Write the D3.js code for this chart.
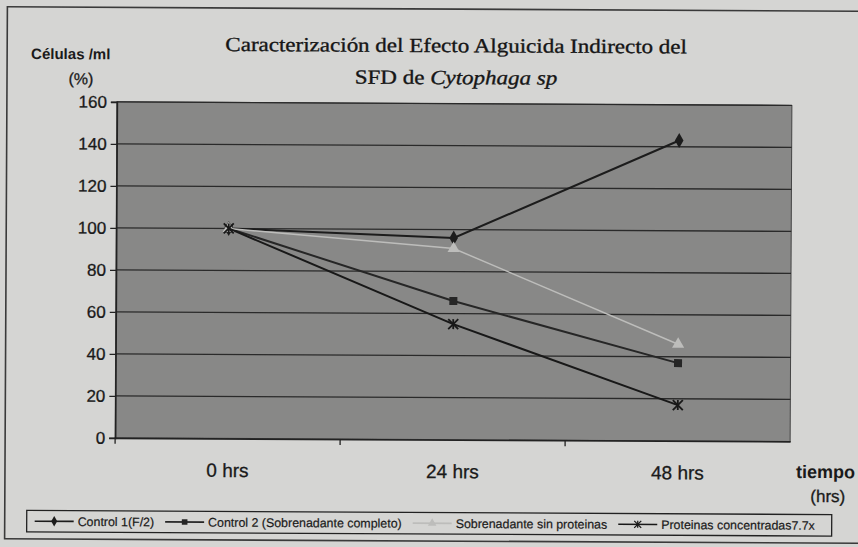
<!DOCTYPE html>
<html>
<head>
<meta charset="utf-8">
<script src="https://cdn.jsdelivr.net/npm/d3@7"></script>
<style>
  html, body { margin: 0; padding: 0; background: #d5d5d3; overflow: hidden; }
  svg { display: block; }
</style>
</head>
<body>
<div id="chart"></div>
<script>
(function () {
  "use strict";

  /***** Données *****/
  var categories = ["0 hrs", "24 hrs", "48 hrs"];
  var control1 = [100, 96, 143];
  var control2 = [100, 66, 37];
  var sinProteinas = [100, 91, 46];
  var proteinasConc = [100, 55, 17];
  var yTicks = [0, 20, 40, 60, 80, 100, 120, 140, 160];
  var seriesNames = [
    "Control 1(F/2)",
    "Control 2 (Sobrenadante completo)",
    "Sobrenadante sin proteinas",
    "Proteinas concentradas7.7x"
  ];

  var series = [
    {name: seriesNames[0], values: control1, color: "#1c1c1c", symbol: "diamond", width: 2},
    {name: seriesNames[1], values: control2, color: "#262626", symbol: "square", width: 2},
    {name: seriesNames[2], values: sinProteinas, color: "#bdbdbb", symbol: "triangle", width: 1.5},
    {name: seriesNames[3], values: proteinasConc, color: "#181818", symbol: "star", width: 2}
  ];

  /***** Configuration *****/
  var width = 858, height = 547;
  var plot = {left: 116, right: 791, top: 103.5, bottom: 439.5};
  var sans = "'Liberation Sans', Arial, sans-serif";
  var serif = "'Liberation Serif', 'Times New Roman', serif";

  var svg = d3.select("#chart").append("svg")
    .attr("width", width)
    .attr("height", height);

  // la page numérisée est légèrement inclinée
  var root = svg.append("g")
    .attr("transform", "rotate(0.3," + width / 2 + "," + height / 2 + ")");

  // cadre extérieur
  root.append("rect")
    .attr("x", 6).attr("y", 9)
    .attr("width", 900).attr("height", 532)
    .attr("fill", "none")
    .attr("stroke", "#3a3a3a")
    .attr("stroke-width", 1.6);

  var x = d3.scaleBand().domain(categories).range([plot.left, plot.right]);
  var y = d3.scaleLinear().domain([0, 160]).range([plot.bottom, plot.top]);

  // zone du graphique
  root.append("rect")
    .attr("x", plot.left).attr("y", plot.top)
    .attr("width", plot.right - plot.left).attr("height", plot.bottom - plot.top)
    .attr("fill", "#888887")
    .attr("stroke", "#444")
    .attr("stroke-width", 1);

  // lignes de grille
  root.append("g").selectAll("line")
    .data(yTicks.filter(function (d) { return d > 0; }))
    .enter().append("line")
    .attr("x1", plot.left).attr("x2", plot.right)
    .attr("y1", function (d) { return y(d); })
    .attr("y2", function (d) { return y(d); })
    .attr("stroke", "#2a2a2a")
    .attr("stroke-width", 1.3);

  // axe Y
  var yAxis = root.append("g")
    .attr("transform", "translate(" + plot.left + ",0)")
    .call(d3.axisLeft(y).tickValues(yTicks).tickSize(6).tickPadding(4));
  yAxis.select(".domain").attr("stroke", "#222").attr("stroke-width", 1.6);
  yAxis.selectAll(".tick line").attr("stroke", "#222").attr("stroke-width", 1.3);
  yAxis.selectAll("text")
    .attr("font-family", sans)
    .attr("font-size", 17)
    .attr("fill", "#1a1a1a")
    .attr("stroke", "#1a1a1a").attr("stroke-width", 0.3);

  // axe X
  var xAxis = root.append("g")
    .attr("transform", "translate(0," + plot.bottom + ")")
    .call(d3.axisBottom(x).tickSize(0).tickPadding(25));
  xAxis.select(".domain").attr("stroke", "#222").attr("stroke-width", 1.6);
  xAxis.selectAll("text")
    .attr("font-family", sans)
    .attr("font-size", 19)
    .attr("fill", "#1a1a1a")
    .attr("stroke", "#1a1a1a").attr("stroke-width", 0.3);
  // graduations entre catégories
  root.append("g").selectAll("line")
    .data(categories)
    .enter().append("line")
    .attr("x1", function (d) { return x(d); })
    .attr("x2", function (d) { return x(d); })
    .attr("y1", plot.bottom).attr("y2", plot.bottom + 6)
    .attr("stroke", "#222").attr("stroke-width", 1.3);

  // séries
  var cx = function (i) { return x(categories[i]) + x.bandwidth() / 2; };
  var line = d3.line()
    .x(function (d, i) { return cx(i); })
    .y(function (d) { return y(d); });

  var symbolType = {
    diamond: d3.symbolDiamond,
    square: d3.symbolSquare,
    triangle: d3.symbolTriangle
  };

  function drawMarker(g, s, px, py, scale) {
    if (s.symbol === "star") {
      var r = 5 * scale;
      var m = g.append("g").attr("transform", "translate(" + px + "," + py + ")");
      [[-r, -r, r, r], [-r, r, r, -r], [0, -r, 0, r]].forEach(function (p) {
        m.append("line")
          .attr("x1", p[0]).attr("y1", p[1]).attr("x2", p[2]).attr("y2", p[3])
          .attr("stroke", s.color).attr("stroke-width", 1.8 * scale);
      });
    } else {
      g.append("path")
        .attr("transform", "translate(" + px + "," + py + ")")
        .attr("d", d3.symbol().type(symbolType[s.symbol]).size(64 * scale * scale)())
        .attr("fill", s.color);
    }
  }

  var gSeries = root.append("g");
  series.forEach(function (s) {
    gSeries.append("path")
      .datum(s.values)
      .attr("d", line)
      .attr("fill", "none")
      .attr("stroke", s.color)
      .attr("stroke-width", s.width);
    s.values.forEach(function (v, i) {
      drawMarker(gSeries, s, cx(i), y(v), 1);
    });
  });

  // titre (police plus large que Times : étirement horizontal)
  function titleLine(yPos) {
    return root.append("g")
      .attr("transform", "translate(455," + yPos + ") scale(1.15,1)")
      .append("text")
      .attr("text-anchor", "middle")
      .attr("font-family", serif)
      .attr("font-size", 20)
      .attr("fill", "#161616")
      .attr("stroke", "#161616").attr("stroke-width", 0.35);
  }
  titleLine(52).text("Caracterización  del Efecto Alguicida Indirecto del");
  var t2 = titleLine(84);
  t2.append("tspan").text("SFD de ");
  t2.append("tspan").attr("font-style", "italic").text("Cytophaga sp");

  // titres des axes
  root.append("text")
    .attr("x", 30).attr("y", 61)
    .attr("font-family", sans).attr("font-weight", "bold")
    .attr("font-size", 15).attr("fill", "#1a1a1a")
    .text("Células /ml");
  root.append("text")
    .attr("x", 80).attr("y", 86)
    .attr("text-anchor", "middle")
    .attr("font-family", sans)
    .attr("font-size", 16).attr("fill", "#1a1a1a")
    .attr("stroke", "#1a1a1a").attr("stroke-width", 0.3)
    .text("(%)");
  root.append("text")
    .attr("x", 797).attr("y", 476)
    .attr("font-family", sans).attr("font-weight", "bold")
    .attr("font-size", 18).attr("fill", "#1a1a1a")
    .text("tiempo");
  root.append("text")
    .attr("x", 829).attr("y", 500)
    .attr("text-anchor", "middle")
    .attr("font-family", sans)
    .attr("font-size", 17).attr("fill", "#1a1a1a")
    .attr("stroke", "#1a1a1a").attr("stroke-width", 0.3)
    .text("(hrs)");

  // légende
  var legend = {left: 28, top: 512.5, right: 833, bottom: 534};
  root.append("rect")
    .attr("x", legend.left).attr("y", legend.top)
    .attr("width", legend.right - legend.left).attr("height", legend.bottom - legend.top)
    .attr("fill", "none")
    .attr("stroke", "#222").attr("stroke-width", 1.3);

  var ly = (legend.top + legend.bottom) / 2;
  var lx = legend.left + 8;
  series.forEach(function (s) {
    var g = root.append("g");
    g.append("line")
      .attr("x1", lx).attr("x2", lx + 39)
      .attr("y1", ly).attr("y2", ly)
      .attr("stroke", s.color).attr("stroke-width", 1.6);
    drawMarker(g, s, lx + 19.5, ly, 0.7);
    var t = g.append("text")
      .attr("x", lx + 43).attr("y", ly + 4.5)
      .attr("font-family", sans)
      .attr("font-size", 12.4)
      .attr("fill", "#1a1a1a")
      .attr("stroke", "#1a1a1a").attr("stroke-width", 0.2)
      .text(s.name);
    lx += 43 + t.node().getComputedTextLength() + 11;
  });
})();
</script>
</body>
</html>
